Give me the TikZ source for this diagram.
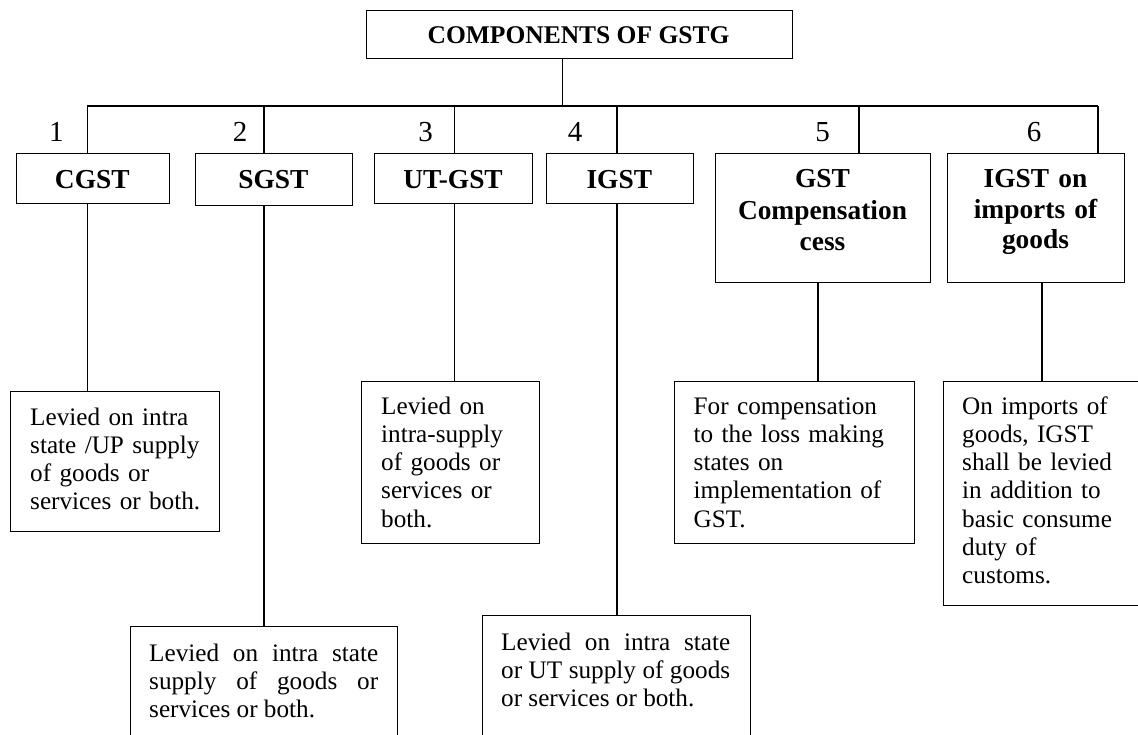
\documentclass[tikz,border=0pt]{standalone}
\usepackage{fontspec}
\setmainfont{Liberation Serif}
\begin{document}
\begin{tikzpicture}[x=1pt,y=-1pt,
  box/.style={draw, line width=1.3pt, rectangle, inner sep=0pt, anchor=north west},
  link/.style={line width=1.1pt},
  lbl/.style={inner sep=0pt, anchor=base, align=center,
    font=\fontsize{27.4}{31.5}\selectfont\bfseries},
  desc/.style={inner sep=0pt, anchor=base west, align=left,
    font=\fontsize{25.2}{28.3}\selectfont},
  num/.style={inner sep=0pt, anchor=base, font=\fontsize{29}{32}\selectfont}]
\useasboundingbox (0,0) rectangle (1138,734);
\fill[white] (0,0) rectangle (1138,734);
\clip (0,0) rectangle (1138,734);

% title
\node[box, minimum width=426.1pt, minimum height=48pt] (title) at (365.5,10) {};
\node[lbl, font=\fontsize{25.5}{30}\selectfont\bfseries] (title-t) at (578.5,43.3) {COMPONENTS OF GSTG};

% first level boxes
\node[box, minimum width=153.4pt, minimum height=50pt]  (cgst) at (15.6,153) {};
\node[box, minimum width=156.6pt, minimum height=52pt]  (sgst) at (195,153) {};
\node[box, minimum width=158.2pt, minimum height=50pt]  (utgst) at (373.8,153) {};
\node[box, minimum width=146.7pt, minimum height=50pt]  (igst) at (546,153) {};
\node[box, minimum width=215pt,   minimum height=129pt] (comp) at (715,153) {};
\node[box, minimum width=177pt,   minimum height=129pt] (imp) at (947,153) {};

\node[lbl, text width=150pt] (cgst-t)  at (92.3,188) {CGST};
\node[lbl, text width=150pt] (sgst-t)  at (273.3,188) {SGST};
\node[lbl, text width=150pt] (utgst-t) at (453,188) {UT-GST};
\node[lbl, text width=140pt] (igst-t)  at (619.3,188) {IGST};
\node[lbl, text width=210pt] (comp-t)  at (822.5,187.5) {GST\\Compensation\\cess};
\node[lbl, text width=170pt, font=\fontsize{27.4}{30.5}\selectfont\bfseries] (imp-t) at (1035.5,187.7) {IGST on\\imports of\\goods};

% component numbers
\node[num] (n1) at (56.4,141.7) {1};
\node[num] (n2) at (240,141.7) {2};
\node[num] (n3) at (425.5,141.7) {3};
\node[num] (n4) at (575,141.7) {4};
\node[num] (n5) at (822.5,141.7) {5};
\node[num] (n6) at (1034,141.7) {6};

% description boxes
\node[box, minimum width=208.5pt, minimum height=140pt] (cgst-d)  at (10,391) {};
\node[box, minimum width=267pt,   minimum height=150pt] (sgst-d)  at (130,626) {};
\node[box, minimum width=178pt,   minimum height=162pt] (utgst-d) at (361,381) {};
\node[box, minimum width=268pt,   minimum height=150pt] (igst-d)  at (482,615) {};
\node[box, minimum width=240pt,   minimum height=162pt] (comp-d)  at (674,381) {};
\node[box, minimum width=230pt,   minimum height=224pt] (imp-d)   at (942.5,381) {};

\node[desc, text width=185pt] (cgst-dt) at (30,425)
  {Levied on intra\\state /UP supply\\of goods or\\services or both.};
\node[desc, text width=229pt, align=justify] (sgst-dt) at (149,661)
  {Levied on intra state\linebreak supply of goods or\linebreak services or both.};
\node[desc, text width=150pt] (utgst-dt) at (381,414)
  {Levied on\\intra-supply\\of goods or\\services or\\both.};
\node[desc, text width=229pt, align=justify] (igst-dt) at (501,650)
  {Levied on intra state\linebreak or UT supply of goods\linebreak or services or both.};
\node[desc, text width=210pt] (comp-dt) at (693.5,414)
  {For compensation\\to the loss making\\states on\\implementation of\\GST.};
\node[desc, text width=170pt] (imp-dt) at (962,414)
  {On imports of\\goods, IGST\\shall be levied\\in addition to\\basic consume\\duty of\\customs.};

% bus and drops
\coordinate (stem) at (562.7,106);
\coordinate (bus1) at (87.3,106);
\coordinate (bus2) at (264,106);
\coordinate (bus3) at (454.5,106);
\coordinate (bus4) at (617,106);
\coordinate (bus5) at (859,106);
\coordinate (bus6) at (1098,106);
\coordinate (s5) at (818,0);
\coordinate (s6) at (1042,0);

\draw[link] (title.south -| stem) -- (stem);
\draw[link] (bus1) -- (bus6);
\draw[link] (bus1) -- (bus1 |- cgst.north);
\draw[link] (bus2) -- (bus2 |- sgst.north);
\draw[link] (bus3) -- (bus3 |- utgst.north);
\draw[link] (bus4) -- (bus4 |- igst.north);
\draw[link] (bus5) -- (bus5 |- comp.north);
\draw[link] (bus6) -- (bus6 |- imp.north);

% links to descriptions
\draw[link] (cgst.south -| bus1) -- (cgst-d.north -| bus1);
\draw[link] (sgst.south -| bus2) -- (sgst-d.north -| bus2);
\draw[link] (utgst.south -| bus3) -- (utgst-d.north -| bus3);
\draw[link] (igst.south -| bus4) -- (igst-d.north -| bus4);
\draw[link] (comp.south -| s5) -- (comp-d.north -| s5);
\draw[link] (imp.south -| s6) -- (imp-d.north -| s6);
\end{tikzpicture}
\end{document}
